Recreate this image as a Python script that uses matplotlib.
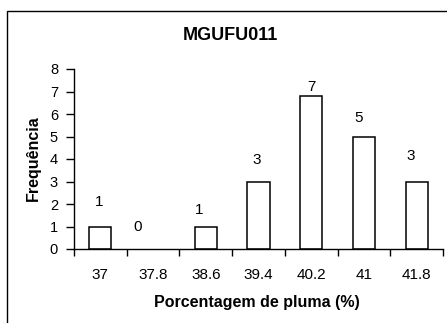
import matplotlib.pyplot as plt
from matplotlib.patches import Rectangle
from matplotlib.ticker import FixedLocator

plt.rcParams['font.family'] = ['Liberation Sans', 'DejaVu Sans']

categorias = ['37', '37.8', '38.6', '39.4', '40.2', '41', '41.8']
frequencia = [1, 0, 1, 3, 6.8, 5, 3]
rotulos = ['1', '0', '1', '3', '7', '5', '3']

# deslocamento dos rotulos (pixels) em relacao ao topo da barra
desloc = [(-1, 25), (-15, 22), (-7, 17), (-2, 22), (0, 9), (-5, 19), (-6, 25)]

fig = plt.figure(figsize=(4.47, 3.23), dpi=100)
fig.patch.set_facecolor('white')
ax = fig.add_axes([74/447, 1 - 249/323, 369/447, 180/323])

x = range(len(categorias))
bordas = ['black' if v > 0 else 'none' for v in frequencia]
ax.bar(x, frequencia, width=0.42, color='white', edgecolor=bordas, linewidth=1.1)

for i, (v, r) in enumerate(zip(frequencia, rotulos)):
    dx, dy = desloc[i]
    ax.annotate(r, (i, v), xytext=(dx * 0.72, dy * 0.72), textcoords='offset points',
                ha='center', va='center', fontsize=11)

ax.set_xlim(-0.5, len(categorias) - 0.5)
ax.set_ylim(0, 8)
ax.set_yticks(range(0, 9))
ax.set_xticks(list(x))
ax.set_xticklabels(categorias)
ax.xaxis.set_minor_locator(FixedLocator([i - 0.5 for i in range(len(categorias) + 1)]))
ax.tick_params(axis='x', which='major', length=0, pad=14, labelsize=11)
ax.tick_params(axis='x', which='minor', length=5, width=1, direction='out')
ax.tick_params(axis='y', length=6, width=1, direction='out', labelsize=10.5, pad=5.5)

for s in ['top', 'right']:
    ax.spines[s].set_visible(False)
for s in ['left', 'bottom']:
    ax.spines[s].set_linewidth(1)

fig.text(230/447, 1 - 36/323, 'MGUFU011', ha='center', va='center',
         fontsize=13, fontweight='bold')
fig.text(257/447, 1 - 303/323, 'Porcentagem de pluma (%)', ha='center', va='center',
         fontsize=11.5, fontweight='bold')
fig.text(33/447, 1 - 158/323, 'Frequência', ha='center', va='center',
         fontsize=11.5, fontweight='bold', rotation=90)

fig.add_artist(Rectangle((7/447, -0.1), 1.2, 1.1 - 11/323, transform=fig.transFigure,
                         fill=False, edgecolor='black', linewidth=1))

fig.savefig('out.png', dpi=100)
